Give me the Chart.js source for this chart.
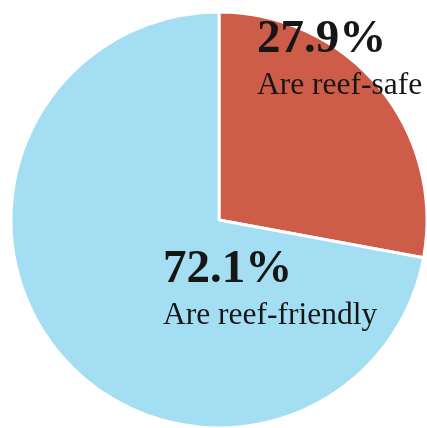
<!DOCTYPE html>
<html>
<head>
<meta charset="utf-8">
<script src="https://cdn.jsdelivr.net/npm/chart.js@4.4.0/dist/chart.umd.min.js"></script>
<style>
    html, body { margin: 0; padding: 0; background: #ffffff; overflow: hidden; }
    #wrap { position: absolute; left: 0; top: 0; width: 427px; height: 428px; overflow: hidden; }
    canvas { position: absolute; left: 0; top: 0; }
</style>
</head>
<body>
<div id="wrap"><canvas id="pieChart" width="438" height="440"></canvas></div>
<script>
const categories = ['Are reef-safe', 'Are reef-friendly'];
const shares = [27.9, 72.1];
const sliceColors = ['#cd5c48', '#a4def3'];

// where each label's left/baseline sits, relative to the pie centre
const labelOffsets = [
    { x: 38, y: -168 },
    { x: -56, y: 62 }
];

const sliceLabels = {
    id: 'sliceLabels',
    afterDatasetsDraw(chart) {
        const ctx = chart.ctx;
        const meta = chart.getDatasetMeta(0);
        meta.data.forEach(function (arc, i) {
            const cx = arc.x + labelOffsets[i].x;
            const cy = arc.y + labelOffsets[i].y;
            ctx.save();
            ctx.fillStyle = '#161616';
            ctx.textAlign = 'left';
            ctx.textBaseline = 'alphabetic';
            ctx.font = 'bold 47px "Liberation Serif", "Times New Roman", serif';
            ctx.fillText(shares[i].toFixed(1) + '%', cx, cy);
            ctx.font = '31.5px "Liberation Serif", "Times New Roman", serif';
            ctx.fillText(categories[i], cx, cy + 42);
            ctx.restore();
        });
    }
};

new Chart(document.getElementById('pieChart').getContext('2d'), {
    type: 'pie',
    data: {
        labels: categories,
        datasets: [{
            data: shares,
            backgroundColor: sliceColors,
            borderColor: '#ffffff',
            borderWidth: 3
        }]
    },
    options: {
        responsive: false,
        animation: false,
        layout: { padding: { left: 9.5, right: 9.5, top: 10.5, bottom: 10.5 } },
        plugins: {
            legend: { display: false },
            tooltip: { enabled: false }
        }
    },
    plugins: [sliceLabels]
});
</script>
</body>
</html>
